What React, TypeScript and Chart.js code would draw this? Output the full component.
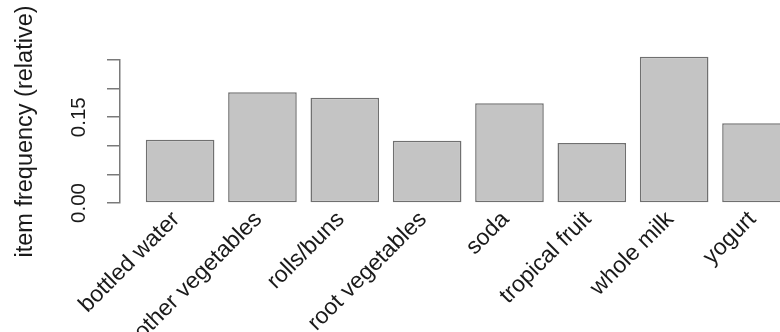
import React, { useEffect, useRef } from "react";
import { Chart, registerables } from "chart.js";

Chart.register(...registerables);

const categories = [
  "bottled water",
  "other vegetables",
  "rolls/buns",
  "root vegetables",
  "soda",
  "tropical fruit",
  "whole milk",
  "yogurt",
];
const frequencies = [0.1105, 0.1935, 0.1839, 0.1090, 0.1744, 0.1049, 0.2555, 0.1395];
const yTickStep = 0.05;
const yMax = 0.25;
const yTickLabelsShown = ["0.00", "0.15"];
const yTitle = "item frequency (relative)";

export default function App() {
  const ref = useRef<HTMLCanvasElement | null>(null);

  useEffect(() => {
    if (!ref.current) return;
    const textColor = "#1a1a1a";
    const family = "Liberation Sans, Arial, sans-serif";
    const chart = new Chart(ref.current, {
      type: "bar",
      data: {
        datasets: [
          {
            data: categories.map((c, i) => ({ x: i, y: frequencies[i] })),
            backgroundColor: "#c4c4c4",
            borderColor: "#707070",
            borderWidth: 1.5,
            borderSkipped: false,
            categoryPercentage: 1,
            barPercentage: 1 / 1.2,
            clip: false,
          } as any,
        ],
      },
      options: {
        animation: false,
        responsive: false,
        maintainAspectRatio: false,
        layout: { padding: { top: 60, left: 0, right: 13.4, bottom: 0 } },
        plugins: { legend: { display: false }, tooltip: { enabled: false } },
        scales: {
          x: {
            type: "linear",
            offset: false,
            min: -0.73,
            max: 7.73,
            afterBuildTicks: (scale: any) => {
              scale.ticks = categories.map((_, i) => ({ value: i }));
            },
            afterFit: (scale: any) => {
              scale.height = 129;
            },
            grid: { display: false, offset: false },
            border: { display: false },
            ticks: {
              autoSkip: false,
              minRotation: 45,
              maxRotation: 45,
              padding: -5,
              labelOffset: -4,
              color: textColor,
              font: { family, size: 23 },
              callback: (v: any) => categories[Math.round(Number(v))] ?? "",
            },
          },
          y: {
            type: "linear",
            min: 0,
            max: yMax,
            afterFit: (scale: any) => {
              scale.width = 120;
            },
            grid: {
              drawOnChartArea: false,
              drawTicks: true,
              tickLength: 13,
              color: "#7a7a7a",
              lineWidth: 1.5,
            },
            border: { display: true, color: "#7a7a7a", width: 1.5 },
            title: {
              display: true,
              text: yTitle,
              color: textColor,
              font: { family, size: 23.5 },
              padding: { top: 11, bottom: 0 },
            },
            ticks: {
              stepSize: yTickStep,
              autoSkip: false,
              minRotation: 90,
              maxRotation: 90,
              crossAlign: "center",
              padding: 8,
              color: textColor,
              font: { family, size: 20.5 },
              callback: (v: any) => {
                const s = Number(v).toFixed(2);
                return yTickLabelsShown.includes(s) ? s : "";
              },
            },
          },
        },
      },
    });
    return () => chart.destroy();
  }, []);

  return (
    <div
      style={{
        position: "absolute",
        left: 0,
        top: 0,
        width: 780,
        height: 332,
        overflow: "hidden",
        background: "#ffffff",
      }}
    >
      <canvas ref={ref} width={830} height={332} style={{ width: 830, height: 332, display: "block" }} />
    </div>
  );
}
